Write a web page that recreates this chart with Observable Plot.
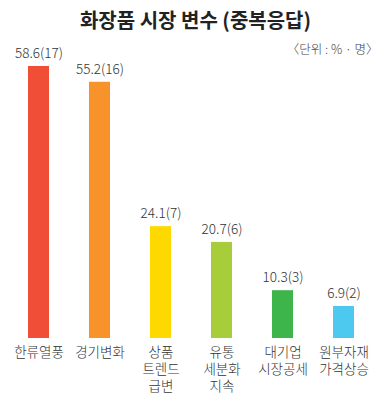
<!DOCTYPE html>
<html>
<head>
<meta charset="utf-8">
<script src="https://cdn.jsdelivr.net/npm/d3@7"></script>
<script src="https://cdn.jsdelivr.net/npm/@observablehq/plot@0.6"></script>
<style>
  html, body { margin: 0; padding: 0; background: #fff; }
  #chart svg { display: block; }
</style>
</head>
<body>
<div id="chart"></div>
<script>
const title = "화장품 시장 변수 (중복응답)";
const unitLabel = "〈단위 : % · 명〉";
const categories = ["한류열풍", "경기변화", "상품\n트렌드\n급변", "유통\n세분화\n지속", "대기업\n시장공세", "원부자재\n가격상승"];
const percents = [58.6, 55.2, 24.1, 20.7, 10.3, 6.9];
const counts = [17, 16, 7, 6, 3, 2];
const colors = ["#f04e37", "#f7932a", "#fdd900", "#a8cd3a", "#3db54a", "#4dc8ef"];

const data = categories.map((c, i) => ({
  cat: c,
  pct: percents[i],
  n: counts[i],
  label: `${percents[i].toFixed(1)}(${counts[i]})`,
  color: colors[i]
}));

// one row per label line so that each line is its own text element
const lineRows = categories.flatMap(c => c.split("\n").map((t, j) => ({ cat: c, line: t, j })));

const font = "'Noto Sans CJK KR', 'Noto Sans', sans-serif";
const labelFont = "'Liberation Sans', 'Noto Sans CJK KR', sans-serif";
const lineStep = 17;

const chart = Plot.plot({
  width: 390,
  height: 405,
  marginTop: 0, marginRight: 0, marginBottom: 0, marginLeft: 0,
  style: { fontFamily: font, background: "#fff" },
  x: { domain: categories, range: [26, 356], paddingInner: 0.66, paddingOuter: 0, axis: null },
  y: { domain: [0, 58.6], range: [338, 66], axis: null },
  marks: [
    Plot.barY(data, { x: "cat", y: "pct", fill: "color" }),
    Plot.text(data, { x: "cat", y: "pct", text: "label", dy: -13, fontSize: 13.5, fontWeight: 300, fill: "#333", lineAnchor: "middle" }),
    [0, 1, 2].map(j => Plot.text(lineRows.filter(r => r.j === j), {
      x: "cat", y: 0, text: "line", dy: 14 + j * lineStep, fontSize: 13.5, fontWeight: 300,
      fontFamily: labelFont, fill: "#333", lineAnchor: "middle"
    })),
    Plot.text([title], { frameAnchor: "top", dy: 21, fontSize: 20, fontWeight: "bold", fill: "#222", lineAnchor: "middle" }),
    Plot.text([unitLabel], { frameAnchor: "top-right", dx: -12, dy: 49, fontSize: 12.5, fontWeight: 300, fill: "#444", lineAnchor: "middle", textAnchor: "end" })
  ]
});
document.getElementById("chart").appendChild(chart);
</script>
</body>
</html>
